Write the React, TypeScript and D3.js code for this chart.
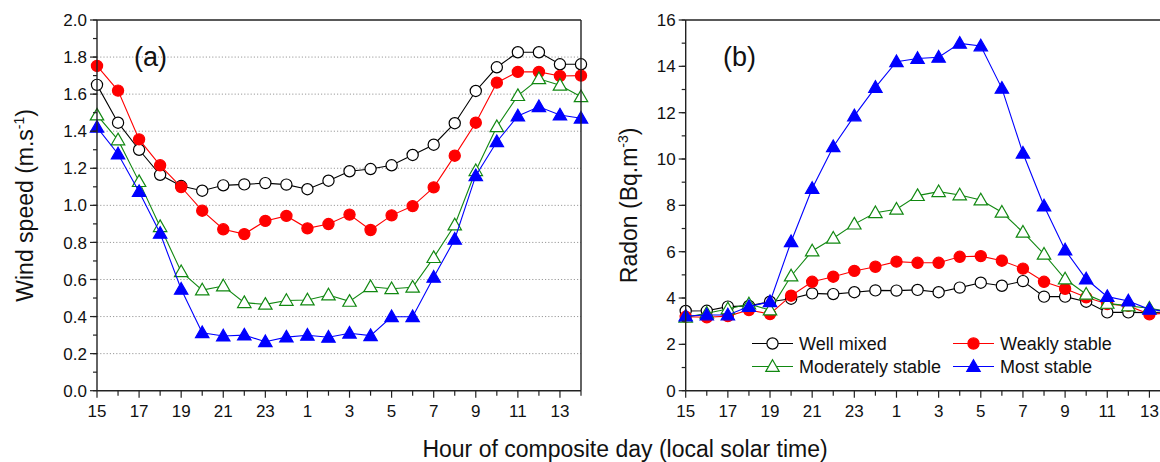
import React from "react";
import * as d3 from "d3";

const hours = [15, 16, 17, 18, 19, 20, 21, 22, 23, 0, 1, 2, 3, 4, 5, 6, 7, 8, 9, 10, 11, 12, 13, 14];

const windWellMixed = [1.65, 1.446, 1.30, 1.165, 1.104, 1.079, 1.108, 1.113, 1.12, 1.112, 1.087, 1.133, 1.184, 1.196, 1.216, 1.272, 1.327, 1.443, 1.617, 1.745, 1.826, 1.826, 1.761, 1.761];
const windWeakly = [1.752, 1.619, 1.356, 1.216, 1.099, 0.971, 0.871, 0.845, 0.916, 0.943, 0.876, 0.899, 0.95, 0.867, 0.946, 0.996, 1.097, 1.268, 1.446, 1.662, 1.72, 1.72, 1.698, 1.70];
const windModerately = [1.487, 1.353, 1.128, 0.885, 0.642, 0.543, 0.565, 0.475, 0.466, 0.487, 0.489, 0.516, 0.482, 0.561, 0.55, 0.558, 0.718, 0.894, 1.187, 1.424, 1.592, 1.683, 1.648, 1.586];
const windMost = [1.421, 1.277, 1.074, 0.849, 0.547, 0.313, 0.295, 0.30, 0.264, 0.289, 0.299, 0.288, 0.31, 0.297, 0.399, 0.399, 0.612, 0.817, 1.16, 1.343, 1.482, 1.532, 1.487, 1.47];

const radonWellMixed = [3.44, 3.45, 3.63, 3.66, 3.84, 3.97, 4.20, 4.17, 4.25, 4.33, 4.32, 4.35, 4.25, 4.45, 4.66, 4.53, 4.73, 4.06, 4.06, 3.84, 3.38, 3.38, 3.37, 3.4];
const radonWeakly = [3.19, 3.17, 3.22, 3.48, 3.31, 4.10, 4.70, 4.92, 5.17, 5.35, 5.57, 5.52, 5.52, 5.78, 5.81, 5.61, 5.27, 4.70, 4.40, 4.03, 3.74, 3.66, 3.30, 3.35];
const radonModerately = [3.17, 3.34, 3.53, 3.74, 3.48, 4.95, 6.03, 6.58, 7.19, 7.68, 7.83, 8.42, 8.59, 8.45, 8.23, 7.70, 6.84, 5.89, 4.82, 4.16, 3.77, 3.66, 3.56, 3.4];
const radonMost = [3.22, 3.27, 3.27, 3.63, 3.84, 6.43, 8.73, 10.53, 11.86, 13.09, 14.2, 14.34, 14.39, 14.99, 14.88, 13.05, 10.25, 7.97, 6.07, 4.82, 4.06, 3.87, 3.51, 3.4];

const seriesNames = ["Well mixed", "Weakly stable", "Moderately stable", "Most stable"];
const windTicks = [0, 0.2, 0.4, 0.6, 0.8, 1.0, 1.2, 1.4, 1.6, 1.8, 2.0];
const radonTicks = [0, 2, 4, 6, 8, 10, 12, 14, 16];

const styles = [
  { color: "#000000", marker: "circle", fill: "#ffffff" },
  { color: "#ff0000", marker: "circle", fill: "#ff0000" },
  { color: "#118811", marker: "triangle", fill: "#ffffff" },
  { color: "#0000ff", marker: "triangle", fill: "#0000ff" },
];

const FONT = "'Liberation Sans', Arial, sans-serif";
const AXIS = "#222";

function Marker({ x, y, s }: { x: number; y: number; s: any }) {
  if (s.marker === "circle") {
    return <circle cx={x} cy={y} r={5.6} fill={s.fill} stroke={s.color} strokeWidth={1.2} />;
  }
  const path = d3.symbol().type(d3.symbolTriangle).size(78)()!;
  return <path d={path} transform={`translate(${x},${y + 1})`} fill={s.fill} stroke={s.color} strokeWidth={1.2} />;
}

function Panel({
  left, right, top, bottom, yMax, yTicks, yMinorStep, series, grid, fmt, label, labelX, yTitle, yTitleSup, yTitleX,
}: any) {
  const x = d3.scaleLinear().domain([0, 23]).range([left, right]);
  const y = d3.scaleLinear().domain([0, yMax]).range([bottom, top]);
  const line = d3.line<number>().x((_, i) => x(i)).y((d) => y(d));
  const minor: number[] = [];
  for (let v = 0; v <= yMax + 1e-9; v += yMinorStep) minor.push(+v.toFixed(4));
  const cy = (top + bottom) / 2;
  return (
    <g>
      {grid &&
        yTicks.filter((t: number) => t > 0 && t < yMax).map((t: number) => (
          <line key={"g" + t} x1={left} x2={right} y1={y(t)} y2={y(t)} stroke="#9a9a9a" strokeWidth={1} strokeDasharray="1.2,2" />
        ))}
      {series.map((vals: number[], k: number) => (
        <g key={k}>
          <path d={line(vals)!} fill="none" stroke={styles[k].color} strokeWidth={1.1} />
          {vals.map((v, i) => (
            <Marker key={i} x={x(i)} y={y(v)} s={styles[k]} />
          ))}
        </g>
      ))}
      <line x1={left} x2={left} y1={top} y2={bottom} stroke={AXIS} strokeWidth={1.4} />
      <line x1={left} x2={right} y1={bottom} y2={bottom} stroke={AXIS} strokeWidth={1.4} />
      <line x1={left} x2={right} y1={top} y2={top} stroke={AXIS} strokeWidth={1.4} />
      <line x1={right} x2={right} y1={top} y2={bottom} stroke={AXIS} strokeWidth={1.4} />
      {minor.map((t) => (
        <line key={"ym" + t} x1={left - 4} x2={left} y1={y(t)} y2={y(t)} stroke={AXIS} strokeWidth={1.2} />
      ))}
      {yTicks.map((t: number) => (
        <g key={"yt" + t}>
          <line x1={left - 7} x2={left} y1={y(t)} y2={y(t)} stroke={AXIS} strokeWidth={1.2} />
          <text x={left - 10} y={y(t)} dy="0.36em" textAnchor="end" fontSize={17} fontFamily={FONT} fill="#111">
            {fmt(t)}
          </text>
        </g>
      ))}
      {hours.map((h, i) => (
        <g key={"xt" + i}>
          <line x1={x(i)} x2={x(i)} y1={bottom} y2={bottom + (i % 2 === 0 ? 7 : 5)} stroke={AXIS} strokeWidth={1.2} />
          {i % 2 === 0 && (
            <text x={x(i)} y={417} textAnchor="middle" fontSize={17} fontFamily={FONT} fill="#111">
              {h}
            </text>
          )}
        </g>
      ))}
      <text x={labelX} y={66} fontSize={27} fontFamily={FONT} fill="#111">{label}</text>
      <text transform={`translate(${yTitleX},${cy}) rotate(-90)`} textAnchor="middle" fontSize={23} fontFamily={FONT} fill="#111">
        {yTitle}
        <tspan fontSize={14} dy={-9}>{yTitleSup}</tspan>
        <tspan dy={9}>)</tspan>
      </text>
    </g>
  );
}

export default function App() {
  const top = 20;
  const bottom = 390.7;
  const legendRows = [343.5, 366.5];
  const legendCols = [752, 953];
  return (
    <svg width={1160} height={462} style={{ position: "absolute", left: 0, top: 0, background: "#fff" }}>
      <rect x={0} y={0} width={1160} height={462} fill="#fff" />
      <Panel
        left={97} right={581} top={top} bottom={bottom} yMax={2} yTicks={windTicks} yMinorStep={0.1}
        series={[windWellMixed, windWeakly, windModerately, windMost]} grid={true}
        fmt={(t: number) => t.toFixed(1)} label="(a)" labelX={134}
        yTitle="Wind speed (m.s" yTitleSup="-1" yTitleX={33}
      />
      <Panel
        left={685.7} right={1170.5} top={top} bottom={bottom} yMax={16} yTicks={radonTicks} yMinorStep={1}
        series={[radonWellMixed, radonWeakly, radonModerately, radonMost]} grid={false}
        fmt={(t: number) => String(t)} label="(b)" labelX={723}
        yTitle="Radon (Bq.m" yTitleSup="-3" yTitleX={637}
      />
      {seriesNames.map((name, k) => {
        const cx = legendCols[k % 2];
        const cyy = legendRows[Math.floor(k / 2)];
        return (
          <g key={name}>
            <line x1={cx} x2={cx + 41} y1={cyy} y2={cyy} stroke={styles[k].color} strokeWidth={1.1} />
            <Marker x={cx + 20.5} y={cyy} s={styles[k]} />
            <text x={cx + 47} y={cyy} dy="0.36em" fontSize={18} fontFamily={FONT} fill="#111">{name}</text>
          </g>
        );
      })}
      <text x={625} y={457} textAnchor="middle" fontSize={23} fontFamily={FONT} fill="#111">
        Hour of composite day (local solar time)
      </text>
    </svg>
  );
}
